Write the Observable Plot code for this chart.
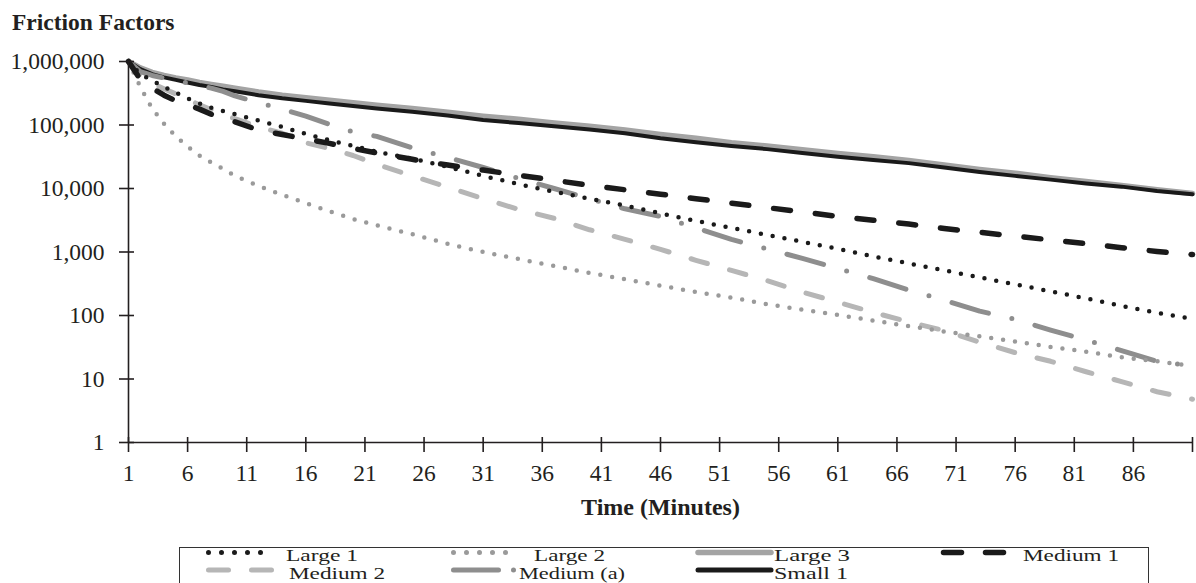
<!DOCTYPE html>
<html>
<head>
<meta charset="utf-8">
<script src="https://cdn.jsdelivr.net/npm/d3@7"></script>
<script src="https://cdn.jsdelivr.net/npm/@observablehq/plot@0.6"></script>
<style>
  html, body { margin: 0; padding: 0; background: #fff; width: 1196px; height: 583px; overflow: hidden; }
  body { font-family: "Liberation Serif", "Times New Roman", serif; color: #231f20; }
  #title { height: 40px; box-sizing: border-box; padding: 11px 0 0 12px; font-weight: bold; font-size: 23.5px; line-height: 23px; }
  #chart svg { display: block; }
  #legend { position: relative; margin: 20px 0 0 179px; width: 970px; height: 60px; border: 1.2px solid #333; box-sizing: border-box; }
  #legend svg { display: block; overflow: visible; }
</style>
</head>
<body>
<div id="title">Friction Factors</div>
<div id="chart"></div>
<div id="legend"></div>
<script>
// ---- data ----
const times = [1, 2, 3, 4, 5, 6, 7, 8, 9, 10, 12, 14, 16, 18, 20, 22, 25, 28, 31, 34, 37, 40, 43, 46, 49, 52, 55, 58, 61, 64, 67, 70, 73, 76, 79, 82, 85, 88, 91];

const large1 = [1000000, 631000, 501200, 398100, 323600, 263000, 218800, 186200, 166000, 147900,
  117500, 93300, 72400, 57500, 46800, 38000,
  29500, 21900, 15800, 11700, 8910, 6920, 5370, 4070, 3090, 2400, 1860, 1450, 1120, 851, 661, 513, 398, 309, 240, 186, 141, 110, 89];

const large2 = [1000000, 398100, 182000, 104700, 66100, 45700, 33100, 25700, 20400, 15800,
  11000, 7940, 5890, 4370, 3310, 2630,
  1910, 1350, 1000, 776, 603, 468, 372, 295, 234, 191, 151, 123, 102, 83, 68, 56, 47, 39, 32, 27, 22, 19, 16];

const large3 = [1000000, 794300, 676100, 602600, 549500, 512900, 467700, 436500, 407400, 380200,
  331100, 295100, 269200, 245500, 223900, 204200,
  182000, 158500, 138000, 123000, 107200, 95500, 83200, 70800, 61700, 52500, 46800, 40700, 35500, 31600, 27500, 23400, 20000, 17400, 14800, 12900, 11200, 9550, 8320];

const medium1 = [1000000, 524800, 380200, 295100, 239900, 208900, 177800, 147900, 125900, 112200,
  83200, 70800, 60300, 51300, 42700, 36300,
  28800, 23400, 19500, 16200, 13500, 11200, 9550, 8130, 6920, 5890, 5010, 4270, 3630, 3160, 2750, 2340, 2040, 1780, 1550, 1350, 1170, 1020, 912];

const medium2 = [1000000, 602600, 457100, 371500, 309000, 251200, 208900, 173800, 144500, 125900,
  93300, 74100, 52500, 42700, 33100, 24000,
  15800, 10500, 6920, 4680, 3390, 2240, 1580, 1100, 741, 513, 355, 234, 162, 112, 79, 58, 38, 26, 19, 13, 9.1, 6.3, 4.8];

const mediumA = [1000000, 691800, 602600, 549500, 501200, 457100, 416900, 380200, 338800, 288400,
  223900, 177800, 138000, 102300, 77600, 66100,
  43700, 30900, 21400, 14500, 10000, 6920, 4790, 3630, 2400, 1580, 1120, 794, 550, 380, 251, 174, 117, 87, 59, 41, 28, 19, 16];

const small1 = [1000000, 758600, 631000, 562300, 512900, 467700, 426600, 398100, 363100, 338800,
  295100, 263000, 239900, 218800, 199500, 182000,
  162200, 141300, 120200, 107200, 95500, 85100, 74100, 61700, 53700, 46800, 41700, 36300, 31600, 28200, 25100, 21400, 18200, 15800, 13800, 12000, 10700, 9120, 8130];

const seriesNames = ["Large 1", "Large 2", "Large 3", "Medium 1", "Medium 2", "Medium (a)", "Small 1"];
const yTicks = [1, 10, 100, 1000, 10000, 100000, 1000000];
const xTickLabels = [1, 6, 11, 16, 21, 26, 31, 36, 41, 46, 51, 56, 61, 66, 71, 76, 81, 86];
const xTicksAll = [...xTickLabels, 91];
const titleText = "Friction Factors";
const xLabel = "Time (Minutes)";

// ---- styles ----
const INK = "#231f20";
const styles = {
  "Large 3":    {values: large3,  stroke: "#a4a4a4", width: 5.5, dash: null},
  "Small 1":    {values: small1,  stroke: "#1a1a1a", width: 4,   dash: null},
  "Medium 2":   {values: medium2, stroke: "#b6b6b6", width: 5,   dash: "17,23"},
  "Medium (a)": {values: mediumA, stroke: "#8e8e8e", width: 5,   dash: "38,24,0,24"},
  "Large 2":    {values: large2,  stroke: "#9a9a9a", width: 4.5, dash: "0,12"},
  "Medium 1":   {values: medium1, stroke: "#1a1a1a", width: 5.5, dash: "17,25"},
  "Large 1":    {values: large1,  stroke: "#1a1a1a", width: 4.5, dash: "0,12"}
};
const drawOrder = ["Large 3", "Small 1", "Medium 2", "Medium (a)", "Large 2", "Medium 1", "Large 1"];

document.getElementById("title").textContent = titleText;

const lineMarks = drawOrder.map(name => {
  const s = styles[name];
  const rows = times.map((t, i) => ({t, v: s.values[i], series: name}));
  return Plot.line(rows, {
    x: "t", y: "v",
    stroke: s.stroke, strokeWidth: s.width,
    strokeDasharray: s.dash,
    strokeLinecap: "round", strokeLinejoin: "round"
  });
});

const chart = Plot.plot({
  width: 1196,
  height: 487,
  marginTop: 21,
  marginBottom: 85,
  marginLeft: 128,
  marginRight: 4,
  style: {fontFamily: "'Liberation Serif', 'Times New Roman', serif", fontSize: "23px", color: INK, background: "transparent"},
  x: {domain: [1, 91]},
  y: {type: "log", domain: [1, 1000000]},
  marks: [
    ...lineMarks,
    Plot.ruleX([1], {stroke: INK, strokeWidth: 1.6}),
    Plot.ruleY([1], {stroke: INK, strokeWidth: 1.6}),
    // y ticks crossing the axis
    Plot.axisY(yTicks, {tickSize: 9, tickPadding: 15, tickFormat: d3.format(","), label: null, fontSize: 23.5, strokeWidth: 1.6}),
    Plot.axisY(yTicks, {tickSize: 6, dx: 6, fill: "none", label: null, strokeWidth: 1.6}),
    // x ticks crossing the axis
    Plot.axisX(xTicksAll, {tickSize: 10, fill: "none", label: null, strokeWidth: 1.6}),
    Plot.axisX(xTicksAll, {tickSize: 5, dy: -5, fill: "none", label: null, strokeWidth: 1.6}),
    Plot.axisX(xTickLabels, {tickSize: 10, tickPadding: 12, stroke: "none", label: null, fontSize: 23.5}),
    Plot.text([xLabel], {text: d => d, frameAnchor: "bottom", dy: 72, fontWeight: "bold", fontSize: 24, fill: INK})
  ]
});
document.getElementById("chart").appendChild(chart);

// ---- legend (below the chart) ----
const legendLayout = [
  {name: "Large 1",    sx1: 28.5,  sx2: 93.5,  sdash: "0,13",        tx: 106, tw: 72,  row: 0},
  {name: "Large 2",    sx1: 273.5, sx2: 338.5, sdash: "0,13",        tx: 354, tw: 71,  row: 0},
  {name: "Large 3",    sx1: 518,   sx2: 591,   sdash: null,          tx: 594, tw: 76,  row: 0},
  {name: "Medium 1",   sx1: 763.5, sx2: 825.5, sdash: "18,24",       tx: 843, tw: 96,  row: 0},
  {name: "Medium 2",   sx1: 28.5,  sx2: 91.5,  sdash: "20,23",       tx: 109, tw: 96,  row: 1},
  {name: "Medium (a)", sx1: 273.5, sx2: 334,   sdash: "45,15,0,100", tx: 339, tw: 106, row: 1},
  {name: "Small 1",    sx1: 518,   sx2: 591,   sdash: null,          tx: 594, tw: 74,  row: 1}
];
const rowSwatchY = [4.5, 22];
const rowTextY = [13, 30.8];
const NS = "http://www.w3.org/2000/svg";
const lsvg = document.createElementNS(NS, "svg");
lsvg.setAttribute("width", 968);
lsvg.setAttribute("height", 58);
for (const item of legendLayout) {
  const s = styles[item.name];
  const ln = document.createElementNS(NS, "line");
  ln.setAttribute("x1", item.sx1);
  ln.setAttribute("x2", item.sx2);
  ln.setAttribute("y1", rowSwatchY[item.row]);
  ln.setAttribute("y2", rowSwatchY[item.row]);
  ln.setAttribute("stroke", s.stroke);
  ln.setAttribute("stroke-width", Math.max(5, s.width));
  ln.setAttribute("stroke-linecap", "round");
  if (item.sdash) ln.setAttribute("stroke-dasharray", item.sdash);
  lsvg.appendChild(ln);
  const tx = document.createElementNS(NS, "text");
  tx.setAttribute("x", item.tx);
  tx.setAttribute("y", rowTextY[item.row]);
  tx.setAttribute("font-family", "'Liberation Serif', 'Times New Roman', serif");
  tx.setAttribute("font-size", 16);
  tx.setAttribute("textLength", item.tw);
  tx.setAttribute("lengthAdjust", "spacingAndGlyphs");
  tx.setAttribute("fill", INK);
  tx.textContent = item.name;
  lsvg.appendChild(tx);
}
document.getElementById("legend").appendChild(lsvg);
</script>
</body>
</html>
